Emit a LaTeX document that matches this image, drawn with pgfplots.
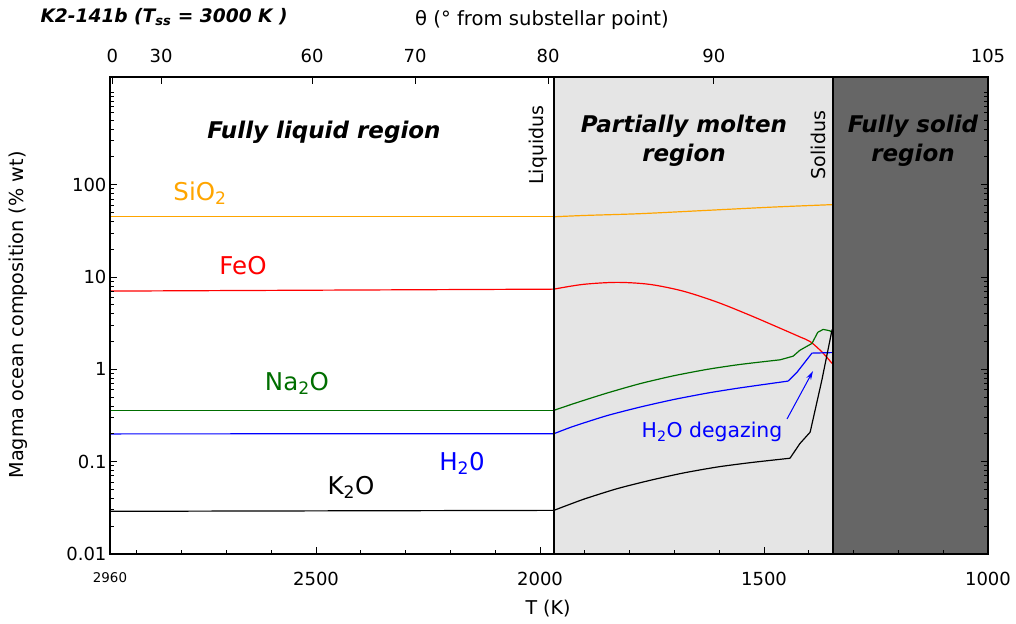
\documentclass[border=0pt]{standalone}
\usepackage{pgfplots}
\pgfplotsset{compat=1.18}
\usepackage{fontspec}
\setmainfont{DejaVu Sans}
\usetikzlibrary{arrows.meta}
\definecolor{sio}{HTML}{FFA500}
\definecolor{feo}{HTML}{FF0000}
\definecolor{nao}{HTML}{006E00}
\definecolor{hho}{HTML}{0000FF}
\definecolor{molten}{HTML}{E5E5E5}
\definecolor{solid}{HTML}{666666}
\begin{document}
\begin{tikzpicture}
\useasboundingbox (-110pt,-69pt) rectangle (906pt,554pt);
\begin{axis}[
	at={(0pt,0pt)}, anchor=south west,
	width=878pt, height=477pt, scale only axis,
	x dir=reverse, xmin=1000, xmax=2960,
	ymode=log, ymin=0.01, ymax=1470,
	xtick={2960,2500,2000,1500,1000},
	xticklabels={{\fontsize{13.4}{14}\selectfont 2960},2500,2000,1500,1000},
	minor xtick={1100,1200,...,2900},
	ytick={0.01,0.1,1,10,100},
	yticklabels={0.01,0.1,1,10,100},
	minor ytick={0.02,0.03,0.04,0.05,0.06,0.07,0.08,0.09,0.2,0.3,0.4,0.5,0.6,0.7,0.8,0.9,2,3,4,5,6,7,8,9,20,30,40,50,60,70,80,90,200,300,400,500,600,700,800,900,1000},
	xtick pos=left, ytick pos=both, yticklabel pos=left,
	tick align=inside,
	major tick length=7pt, minor tick length=4pt,
	every tick/.style={black, line width=1pt},
	ticklabel style={font=\fontsize{18}{20}\selectfont},
	xticklabel style={yshift=-15pt},
	axis line style={line width=1.6pt},
	axis on top,
]
	% regions
	\addplot[fill=molten, draw=none] coordinates {(1969,0.01) (1346,0.01) (1346,1470) (1969,1470)} --cycle;
	\addplot[fill=solid, draw=none] coordinates {(1346,0.01) (1000,0.01) (1000,1470) (1346,1470)} --cycle;

	% SiO2
	\addplot[sio, line width=1.2pt] coordinates {(2960,45) (1969,45)};
	\addplot[sio, line width=1.2pt, smooth, tension=0.5] coordinates {(1969,45) (1900,46.5) (1777,48.6) (1627,52.8) (1480,57.3) (1348,60.9)};
	% FeO
	\addplot[feo, line width=1.2pt] coordinates {(2960,7.05) (1969,7.4)};
	\addplot[feo, line width=1.2pt, smooth, tension=0.5] coordinates {(1969,7.4) (1904,8.33) (1828,8.76) (1755,8.33) (1681,7.05) (1605,5.36) (1531,3.85) (1458,2.71) (1420,2.25) (1397,2.0) (1371,1.55) (1348,1.16)};
	% Na2O
	\addplot[nao, line width=1.2pt] coordinates {(2960,0.36) (1969,0.36)};
	\addplot[nao, line width=1.2pt, smooth, tension=0.4] coordinates {(1969,0.36) (1922,0.43) (1851,0.553) (1777,0.70) (1703,0.85) (1627,1.0) (1554,1.13) (1464,1.27)};
	\addplot[nao, line width=1.2pt] coordinates {(1464,1.27) (1435,1.39) (1420,1.61) (1393,1.91) (1380,2.52) (1368,2.71) (1353,2.62) (1348,2.5)};
	% H2O
	\addplot[hho, line width=1.2pt] coordinates {(2960,0.2) (1969,0.201)};
	\addplot[hho, line width=1.2pt, smooth, tension=0.4] coordinates {(1969,0.201) (1926,0.241) (1851,0.315) (1777,0.39) (1703,0.47) (1627,0.553) (1554,0.63) (1446,0.747)};
	\addplot[hho, line width=1.2pt] coordinates {(1446,0.747) (1426,0.935) (1393,1.50) (1348,1.52)};
	% K2O
	\addplot[black, line width=1.2pt] coordinates {(2960,0.029) (1969,0.0297)};
	\addplot[black, line width=1.2pt, smooth, tension=0.4] coordinates {(1969,0.0297) (1904,0.039) (1828,0.051) (1755,0.0627) (1681,0.0753) (1605,0.0875) (1531,0.0976) (1442,0.109)};
	\addplot[black, line width=1.2pt] coordinates {(1442,0.109) (1420,0.157) (1397,0.209) (1371,0.76) (1348,2.7)};

	% liquidus / solidus
	\addplot[black, line width=2pt] coordinates {(1969,0.01) (1969,1470)};
	\addplot[black, line width=2pt] coordinates {(1346,0.01) (1346,1470)};
\end{axis}
% top axis: angle from substellar point
\begin{axis}[
	at={(0pt,0pt)}, anchor=south west,
	width=878pt, height=477pt, scale only axis,
	x dir=reverse, xmin=1000, xmax=2960,
	ymin=0, ymax=1,
	axis x line*=top, axis y line=none,
	xtick={2955,2846,2509,2279,1982,1612,1000},
	xticklabels={0,30,60,70,80,90,105},
	tick align=inside, major tick length=7pt,
	every tick/.style={black, line width=1pt},
	ticklabel style={font=\fontsize{18}{20}\selectfont},
	xticklabel style={yshift=11pt},
	axis line style={line width=1.6pt},
]
	\addplot[draw=none] coordinates {(2000,0.5)};
\end{axis}

\node[anchor=west, font=\bfseries\itshape\fontsize{18.6}{20}\selectfont] at (-73pt,537pt) {K2-141b (T\textsubscript{ss} = 3000 K )};
\node[font=\fontsize{19.6}{22}\selectfont] at (432pt,534pt) {θ (° from substellar point)};
\node[rotate=90, font=\fontsize{19.2}{22}\selectfont] at (-92pt,239pt) {Magma ocean composition (\% wt)};
\node[font=\fontsize{19}{22}\selectfont] at (438pt,-55pt) {T (K)};

\node[font=\bfseries\itshape\fontsize{23}{29}\selectfont] at (214pt,422pt) {Fully liquid region};
\node[font=\bfseries\itshape\fontsize{23}{29}\selectfont, align=center] at (574pt,413pt) {Partially molten\\region};
\node[font=\bfseries\itshape\fontsize{23}{29}\selectfont, align=center] at (803pt,413pt) {Fully solid\\region};
\node[rotate=90, font=\fontsize{19}{22}\selectfont] at (428pt,409pt) {Liquidus};
\node[rotate=90, font=\fontsize{19}{22}\selectfont] at (708pt,409pt) {Solidus};

\node[text=sio, font=\fontsize{24.5}{26}\selectfont] at (90pt,361pt) {SiO\textsubscript{2}};
\node[text=feo, font=\fontsize{24.5}{26}\selectfont] at (133pt,288pt) {FeO};
\node[text=nao, font=\fontsize{24.5}{26}\selectfont] at (187pt,171pt) {Na\textsubscript{2}O};
\node[text=hho, font=\fontsize{24.5}{26}\selectfont] at (352pt,91pt) {H\textsubscript{2}0};
\node[text=black, font=\fontsize{24.5}{26}\selectfont] at (241pt,67pt) {K\textsubscript{2}O};

\node[text=hho, font=\fontsize{20.4}{22}\selectfont] at (602pt,122pt) {H\textsubscript{2}O degazing};
\draw[hho, line width=1pt, -{Stealth[length=9pt,width=5pt]}] (677pt,135pt) -- (703pt,183pt);
\end{tikzpicture}
\end{document}
